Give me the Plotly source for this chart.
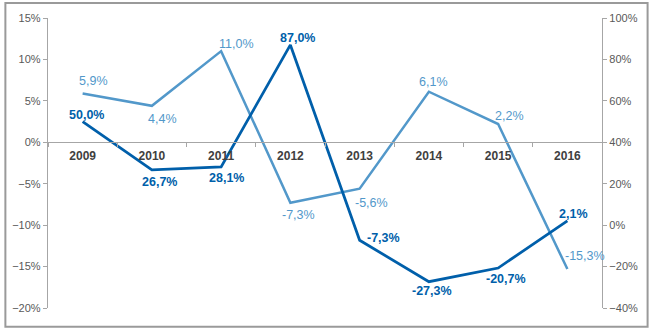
import plotly.graph_objects as go

years = ["2009", "2010", "2011", "2012", "2013", "2014", "2015", "2016"]
light_vals = [5.9, 4.4, 11.0, -7.3, -5.6, 6.1, 2.2, -15.3]      # left axis
dark_vals = [50.0, 26.7, 28.1, 87.0, -7.3, -27.3, -20.7, 2.1]    # right axis
# label offsets (pixels, dx right, dy down) relative to each point
light_off = [(11, -12), (11, 13), (15, -7), (8, 12), (12, 14), (5, -10), (11, -8), (18, -13)]
dark_off = [(4, -7), (8, 12), (5, 11), (7, -7), (24, -2), (3, 9), (8, 11), (6, -7)]

LIGHT = "#5298CA"
DARK = "#005FAA"
AXIS = "#A6A6A6"
FONT = "Liberation Sans, Arial, sans-serif"

def fmt(v):
    return f"{v:.1f}%".replace(".", ",")

fig = go.Figure()
fig.add_trace(go.Scatter(
    x=years, y=light_vals, mode="lines", yaxis="y",
    line=dict(color=LIGHT, width=2.5), showlegend=False))
fig.add_trace(go.Scatter(
    x=years, y=dark_vals, mode="lines", yaxis="y2",
    line=dict(color=DARK, width=2.75), showlegend=False))

annotations = []
for i, (v, (dx, dy)) in enumerate(zip(light_vals, light_off)):
    annotations.append(dict(x=i, y=v, xref="x", yref="y", text=fmt(v),
                            showarrow=False, xshift=dx, yshift=-dy,
                            font=dict(family=FONT, size=12.5, color=LIGHT)))
for i, (v, (dx, dy)) in enumerate(zip(dark_vals, dark_off)):
    annotations.append(dict(x=i, y=v, xref="x", yref="y2", text="<b>" + fmt(v) + "</b>",
                            showarrow=False, xshift=dx, yshift=-dy,
                            font=dict(family=FONT, size=12.5, color=DARK)))

W, H = 650, 328
ml, mr, mt, mb = 44, 47, 16, 20
pw, ph = W - ml - mr, H - mt - mb

fig.update_layout(
    width=W, height=H,
    margin=dict(l=ml, r=mr, t=mt, b=mb),
    paper_bgcolor="white", plot_bgcolor="white",
    font=dict(family=FONT, color="#595959"),
    annotations=annotations,
    xaxis=dict(type="category", anchor="free", position=20 / 35,
               showline=True, linecolor=AXIS, linewidth=1.3,
               ticks="outside", tickson="boundaries", ticklen=4, tickcolor=AXIS,
               ticklabelstandoff=2,
               showgrid=False, zeroline=False,
               tickfont=dict(family=FONT, size=12, color="#404040", weight="bold"),
               range=[-0.5, 7.5]),
    yaxis=dict(range=[-20, 15], dtick=5, ticksuffix="%", showgrid=False,
               zeroline=False, showline=True, linecolor=AXIS, linewidth=1.3,
               ticks="outside", ticklen=4, tickcolor=AXIS,
               tickfont=dict(family=FONT, size=11, color="#595959")),
    yaxis2=dict(range=[-40, 100], dtick=20, ticksuffix="%", overlaying="y",
                side="right", showgrid=False, zeroline=False, showline=True,
                linecolor=AXIS, linewidth=1.3, ticks="outside", ticklen=4,
                tickcolor=AXIS, tickfont=dict(family=FONT, size=11, color="#595959")),
    shapes=[dict(type="rect", xref="paper", yref="paper",
                 x0=(-ml + 1) / pw, x1=(pw + mr - 1) / pw,
                 y0=(-mb + 1) / ph, y1=(ph + mt - 1) / ph,
                 line=dict(color="#9A9A9A", width=2), layer="above")],
)

fig.write_html("out.html")
